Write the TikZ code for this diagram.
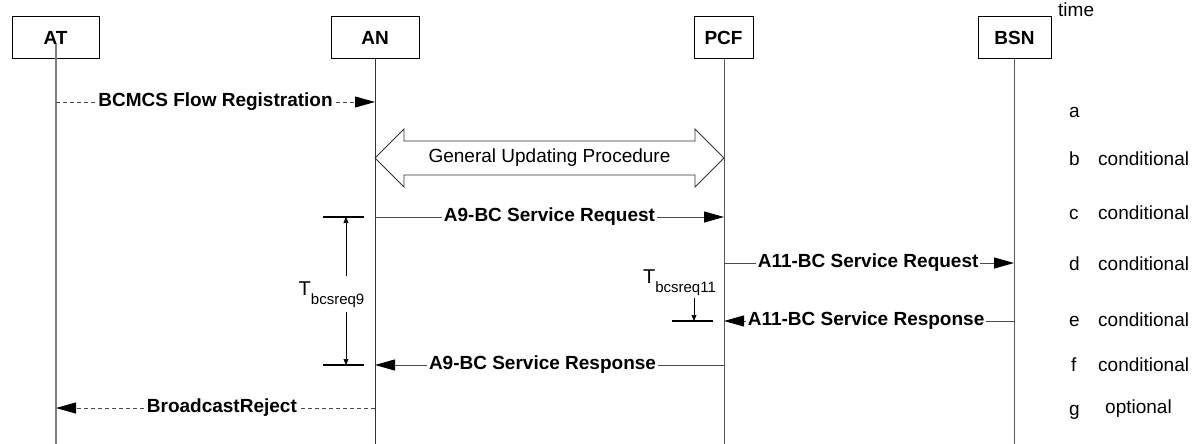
\documentclass[tikz,border=0pt]{standalone}
\usepackage{fontspec}
\setmainfont{Liberation Sans}
\usetikzlibrary{arrows.meta,calc}

\begin{document}
\begin{tikzpicture}[x=1pt,y=-1pt,
  every node/.style={font=\fontsize{19}{22}\selectfont},
  entity/.style={draw=black, line width=1pt, minimum height=42pt, inner sep=0pt,
                 font=\fontsize{19}{22}\selectfont\bfseries},
  life/.style={draw=black!65, line width=1pt},
  msg/.style={draw=black!70, line width=1pt,
              -{Triangle[length=20pt,width=11pt,color=black]}},
  optmsg/.style={msg, dash pattern=on 4pt off 3pt},
  lbl/.style={fill=white, inner xsep=2pt, inner ysep=1pt,
              font=\fontsize{19}{22}\selectfont\bfseries},
  block/.style={draw=black!80, line width=0.8pt, fill=white},
  tbar/.style={draw=black, line width=1.3pt},
  tarrow/.style={draw=black, line width=0.7pt, -{Triangle[length=6pt,width=5pt]}},
  tlbl/.style={fill=white, inner xsep=1pt, inner ysep=5pt},
  side/.style={anchor=base west, inner sep=0pt}
]
\useasboundingbox (0,0) rectangle (1194,444);

% entities
\node[entity, minimum width=87pt] (AT)  at (55.5,38)  {AT};
\node[entity, minimum width=88pt] (AN)  at (375,38)   {AN};
\node[entity, minimum width=59pt] (PCF) at (723.5,38) {PCF};
\node[entity, minimum width=73pt] (BSN) at (1014.5,38){BSN};
\node[side] (time) at (1058,17) {time};

% lifelines
\coordinate (ATtop) at (56,44);
\coordinate (ATend) at (56,444);
\coordinate (ANend) at (375,444);
\coordinate (PCFend) at (724,444);
\coordinate (BSNend) at (1014,444);
\draw[draw=black!50, line width=2pt] (ATtop) -- (ATend);
\draw[life, draw=black!80] (AN.south -| ANend) -- (ANend);
\draw[life] (PCF.south -| PCFend) -- (PCFend);
\draw[life] (BSN.south -| BSNend) -- (BSNend);

% a: flow registration
\draw[optmsg] (ATend |- 0,102) -- (ANend |- 0,102)
  node[lbl, pos=0.5] {BCMCS Flow Registration};

% b: general updating procedure (hollow double block arrow)
\coordinate (bL) at (ANend |- 0,158);
\coordinate (bR) at (PCFend |- 0,158);
\draw[block] (bL) -- ++(29,-29) -- ++(0,12) -- ($(bR)+(-29,-17)$) -- ++(0,-12)
  -- (bR) -- ++(-29,29) -- ++(0,-12) -- ($(bL)+(29,17)$) -- ++(0,12) -- cycle;
\node (gup) at ($(bL)!0.5!(bR)$) {General Updating Procedure};

% c: A9 request
\draw[msg] (ANend |- 0,217) -- (PCFend |- 0,217)
  node[lbl, pos=0.5] {A9-BC Service Request};

% d: A11 request
\draw[msg] (PCFend |- 0,263) -- (BSNend |- 0,263)
  node[lbl, pos=0.497] {A11-BC Service Request};

% e: A11 response
\draw[msg] (BSNend |- 0,321) -- (PCFend |- 0,321)
  node[lbl, pos=0.51] {A11-BC Service Response};

% f: A9 response
\draw[msg] (PCFend |- 0,365) -- (ANend |- 0,365)
  node[lbl, pos=0.52] {A9-BC Service Response};

% g: broadcast reject
\draw[optmsg] (ANend |- 0,408) -- (ATend |- 0,408)
  node[lbl, pos=0.48] {BroadcastReject};

% timer Tbcsreq9
\coordinate (t9a) at (323,217);
\coordinate (t9b) at (323,365);
\coordinate (t9top) at (346,217);
\coordinate (t9bot) at (346,365);
\draw[tbar] (t9a) -- ++(41,0);
\draw[tbar] (t9b) -- ++(41,0);
\coordinate (t9mid) at (346,292);
\draw[tarrow] (t9mid) -- (t9top);
\draw[tarrow] (t9mid) -- (t9bot);
\node[tlbl, anchor=base] (T9) at (331.5,295)
  {{\fontsize{20}{20}\selectfont T}\raisebox{-9pt}{\fontsize{15}{15}\selectfont bcsreq9}};

% timer Tbcsreq11
\node[anchor=base, inner sep=1pt] (T11) at (679.5,283)
  {{\fontsize{20}{20}\selectfont T}\raisebox{-9pt}{\fontsize{15}{15}\selectfont bcsreq11}};
\coordinate (t11bar) at (672,321);
\coordinate (t11tip) at (694,321);
\draw[tbar] (t11bar) -- ++(41,0);
\draw[tarrow] (t11tip |- 0,298) -- (t11tip);

% step labels
\node[side] (la) at (1069,117) {a};
\node[side] (lb) at (1069,165) {b};
\node[side] (lc) at (1069,219) {c};
\node[side] (ld) at (1069,270) {d};
\node[side] (le) at (1069,326) {e};
\node[side] (lf) at (1071,371) {f};
\node[side] (lg) at (1069,415) {g};
\node[side] (cb) at (1098,165) {conditional};
\node[side] (cc) at (1098,219) {conditional};
\node[side] (cd) at (1098,270) {conditional};
\node[side] (ce) at (1098,326) {conditional};
\node[side] (cf) at (1098,371) {conditional};
\node[side] (og) at (1105,413) {optional};
\end{tikzpicture}
\end{document}
